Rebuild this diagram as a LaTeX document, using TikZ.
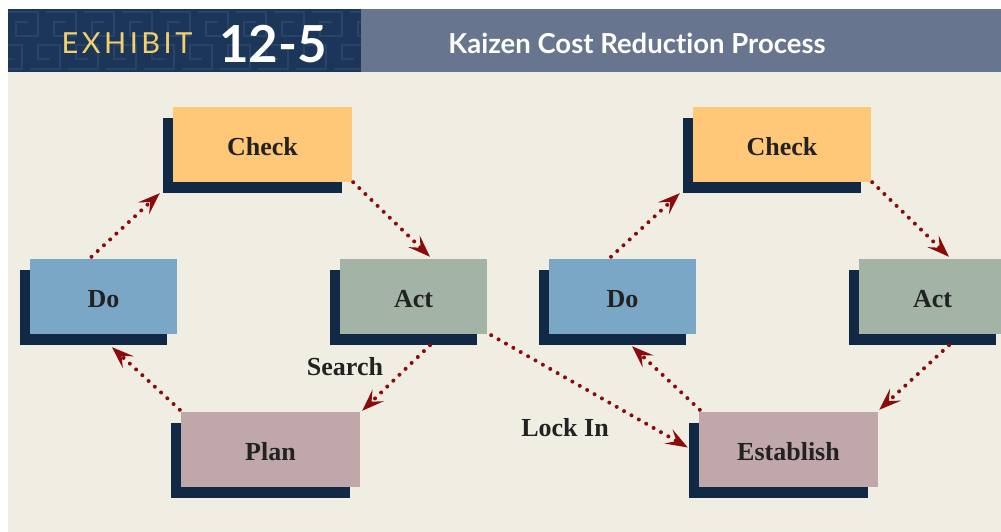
\documentclass[tikz,border=0pt]{standalone}
\usepackage{fontspec}
\setmainfont{Liberation Serif}
\newfontfamily\hdrfont[Ligatures={NoCommon,NoRare,NoDiscretionary}]{Lato}
\newfontfamily\hdrspaced[LetterSpace=12]{Lato}
\usetikzlibrary{arrows.meta,shadows,calc}
\definecolor{bgc}{HTML}{F0EDE3}
\definecolor{hdrdark}{HTML}{1C3659}
\definecolor{hdrline}{HTML}{284569}
\definecolor{hdrslate}{HTML}{67758F}
\definecolor{exyellow}{HTML}{F2D06E}
\definecolor{shc}{HTML}{112944}
\definecolor{checkc}{HTML}{FFC878}
\definecolor{doc}{HTML}{7BA7C7}
\definecolor{actc}{HTML}{A3B3A5}
\definecolor{planc}{HTML}{BFA7AA}
\definecolor{arrc}{HTML}{8B0A0A}
\definecolor{txt}{HTML}{222222}
\begin{document}
\begin{tikzpicture}[x=1pt,y=-1pt,
  box/.style={minimum height=75pt, inner sep=0pt, text=txt,
    text height=21pt, text depth=0pt,
    font=\fontsize{26}{30}\selectfont\bfseries,
    drop shadow={shadow xshift=-10pt, shadow yshift=-11pt, opacity=1, fill=shc}},
  wide/.style={box, minimum width=179pt},
  narrow/.style={box, minimum width=147pt},
  lbl/.style={text=txt, font=\fontsize{26}{30}\selectfont\bfseries, inner sep=0pt},
  flow/.style={arrc, line width=4pt, line cap=round, dash pattern=on 0pt off 8.5pt,
    -{Stealth[length=22pt,width=16pt,inset=9pt]}}]
\useasboundingbox (0,0) rectangle (1001,532);
\fill[white] (0,0) rectangle (1001,532);
\fill[bgc] (8,72) rectangle (1001,532);
% header
\fill[hdrdark] (8,9) rectangle (361,72);
\begin{scope}
  \clip (8,9) rectangle (361,72);
  \foreach \i in {0,...,9}{
    \draw[hdrline, line width=2pt]
      ({8+\i*38},12) -- ++(30,0) -- ++(0,24) -- ++(-22,0) -- ++(0,-14) -- ++(12,0);
    \draw[hdrline, line width=2pt]
      ({-8+\i*38},69) -- ++(30,0) -- ++(0,-24) -- ++(-22,0) -- ++(0,14) -- ++(12,0);
  }
\end{scope}
\fill[hdrslate] (361,9) rectangle (1001,72);
\node[text=exyellow, font=\hdrspaced\fontsize{29}{32}\selectfont, inner sep=0pt] (exh) at (127,43) {EXHIBIT};
\node[text=white, font=\hdrfont\bfseries\fontsize{51}{56}\selectfont, inner sep=0pt] (num) at (273,44) {12-5};
\node[text=white, font=\hdrfont\bfseries\fontsize{27.5}{30}\selectfont, inner sep=0pt] (title) at (637,43) {Kaizen Cost Reduction Process};
% boxes
\node[wide, fill=checkc] (checkL) at (262.5,144.5) {Check};
\node[narrow, fill=doc] (doL) at (103.5,296.5) {Do};
\node[narrow, fill=actc] (actL) at (413.5,296.5) {Act};
\node[wide, fill=planc] (planL) at (270.5,449.5) {Plan};
\node[narrow, fill=doc] (doR) at (622.5,296.5) {Do};
\node[wide, minimum width=178pt, fill=checkc] (checkR) at (782,144.5) {Check};
\node[narrow, fill=actc] (actR) at (932.5,296.5) {Act};
\node[wide, fill=planc] (estR) at (788.5,449.5) {Establish};
% labels
\node[lbl] (search) at (345,367) {Search};
\node[lbl] (lockin) at (565,428) {Lock In};
% arrows
\draw[flow] ($(doL.north)+(-12,-2)$) -- ($(checkL.south west)+(-13,11)$);
\draw[flow] ($(checkL.south east)+(1,0)$) -- ($(actL.north)+(16.5,-2)$);
\draw[flow] ($(actL.south)+(16.5,11)$) -- ($(planL.north east)+(2,-1)$);
\draw[flow] ($(planL.north west)+(-1,-2)$) -- ($(doL.south)+(8.5,13)$);
\draw[flow] ($(actL.south east)+(4,1)$) -- ($(estR.west)+(-11,-2)$);
\draw[flow] ($(doR.north)+(-11.5,-2)$) -- ($(checkR.south west)+(-13,11)$);
\draw[flow] ($(checkR.south east)+(1,0)$) -- ($(actR.north)+(16.5,-2)$);
\draw[flow] ($(actR.south)+(16.5,11)$) -- ($(estR.north east)+(1,-2)$);
\draw[flow] ($(estR.north west)+(1,-2)$) -- ($(doR.south)+(9.5,12)$);
\end{tikzpicture}
\end{document}
